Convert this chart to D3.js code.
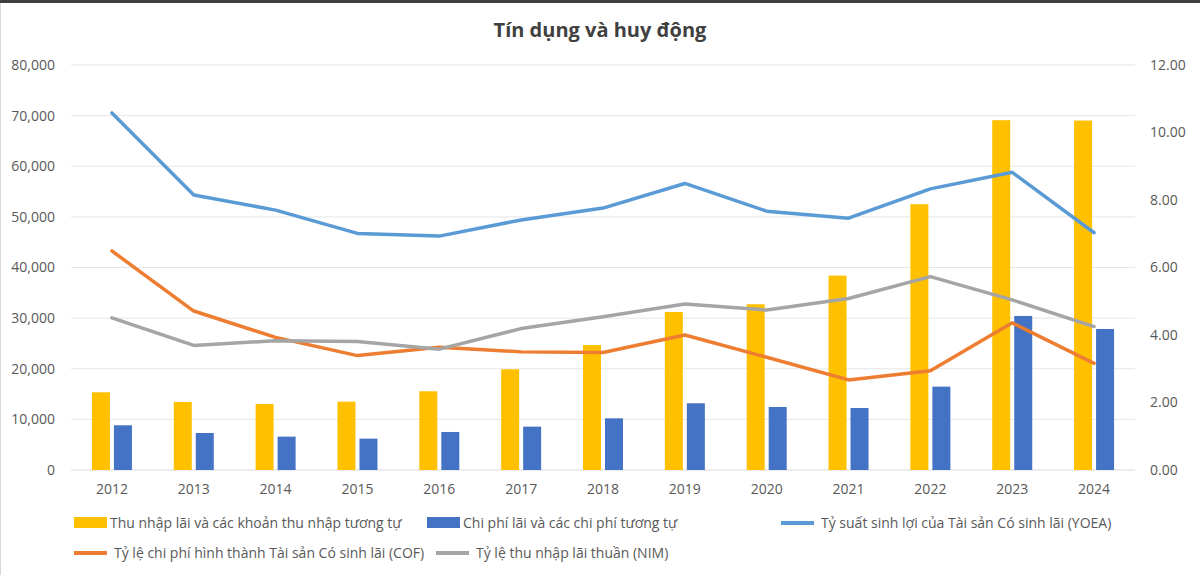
<!DOCTYPE html>
<html lang="vi">
<head>
<meta charset="UTF-8">
<title>Tín dụng và huy động</title>
<script src="https://cdnjs.cloudflare.com/ajax/libs/d3/7.9.0/d3.min.js"></script>
<style>
  body { margin: 0; background: #fff; }
  svg { display: block; font-family: "Open Sans", "Liberation Sans", sans-serif; }
</style>
</head>
<body>
<svg width="1200" height="575"></svg>
<script>
// Data
const years = ["2012", "2013", "2014", "2015", "2016", "2017", "2018", "2019", "2020", "2021", "2022", "2023", "2024"];
const thuNhapLai = [15350, 13440, 13040, 13500, 15550, 19900, 24700, 31220, 32740, 38400, 52500, 69100, 69030];
const chiPhiLai = [8830, 7310, 6590, 6190, 7510, 8560, 10210, 13180, 12450, 12250, 16470, 30430, 27860];
const yoea = [10.58, 8.15, 7.70, 7.01, 6.93, 7.41, 7.76, 8.49, 7.67, 7.46, 8.33, 8.82, 7.03];
const cof = [6.49, 4.71, 3.93, 3.39, 3.64, 3.50, 3.48, 4.00, 3.34, 2.67, 2.94, 4.36, 3.16];
const nim = [4.51, 3.69, 3.83, 3.81, 3.58, 4.19, 4.54, 4.92, 4.74, 5.08, 5.73, 5.04, 4.25];
const leftTicks = [0, 10000, 20000, 30000, 40000, 50000, 60000, 70000, 80000];
const rightTicks = [0, 2, 4, 6, 8, 10, 12];

const svg = d3.select("svg");
const textColor = "#595959";

// border at the top of the picture
svg.append("rect").attr("x", 0).attr("y", 0).attr("width", 1200).attr("height", 3).attr("fill", "#3f3f3f");
svg.append("line").attr("x1", 0.5).attr("x2", 0.5).attr("y1", 3).attr("y2", 575).attr("stroke", "#d9d9d9");

// Title
svg.append("text")
    .attr("x", 600).attr("y", 37)
    .attr("text-anchor", "middle")
    .attr("font-size", "20px")
    .attr("font-weight", "bold")
    .attr("fill", "#404040")
    .text("Tín dụng và huy động");

// Scales
const x = d3.scaleBand().domain(years).range([71, 1135]);
const yLeft = d3.scaleLinear().domain([0, 80000]).range([470, 65]);
const yRight = d3.scaleLinear().domain([0, 12]).range([470, 65]);

// Gridlines
svg.append("g")
    .selectAll("line")
    .data(leftTicks)
    .join("line")
    .attr("x1", 71).attr("x2", 1135)
    .attr("y1", d => yLeft(d)).attr("y2", d => yLeft(d))
    .attr("stroke", d => d === 0 ? "#d9d9d9" : "#e6e6e6")
    .attr("stroke-width", 1);

// Left axis
const leftAxis = svg.append("g")
    .attr("transform", "translate(71,0)")
    .call(d3.axisLeft(yLeft).tickValues(leftTicks).tickFormat(d3.format(",")).tickSize(0).tickPadding(16));
leftAxis.select(".domain").remove();
leftAxis.selectAll("text").attr("font-size", "14px").attr("fill", textColor).attr("font-family", "'Open Sans', sans-serif");

// Right axis
const rightAxis = svg.append("g")
    .attr("transform", "translate(1135,0)")
    .call(d3.axisRight(yRight).tickValues(rightTicks).tickFormat(d3.format(".2f")).tickSize(0).tickPadding(15));
rightAxis.select(".domain").remove();
rightAxis.selectAll("text").attr("font-size", "14px").attr("fill", textColor).attr("font-family", "'Open Sans', sans-serif");

// Bottom axis
const bottomAxis = svg.append("g")
    .attr("transform", "translate(0,470)")
    .call(d3.axisBottom(x).tickSize(0).tickPadding(14));
bottomAxis.select(".domain").remove();
bottomAxis.selectAll("text").attr("font-size", "14px").attr("fill", textColor).attr("font-family", "'Open Sans', sans-serif");

// Bars
const barW = 18, gap = 4;
svg.append("g").selectAll("rect")
    .data(years)
    .join("rect")
    .attr("x", (d, i) => x(d) + x.bandwidth() / 2 - gap / 2 - barW)
    .attr("y", (d, i) => yLeft(thuNhapLai[i]))
    .attr("width", barW)
    .attr("height", (d, i) => yLeft(0) - yLeft(thuNhapLai[i]))
    .attr("fill", "#ffc000");

svg.append("g").selectAll("rect")
    .data(years)
    .join("rect")
    .attr("x", (d, i) => x(d) + x.bandwidth() / 2 + gap / 2)
    .attr("y", (d, i) => yLeft(chiPhiLai[i]))
    .attr("width", barW)
    .attr("height", (d, i) => yLeft(0) - yLeft(chiPhiLai[i]))
    .attr("fill", "#4472c4");

// Lines on the right axis
const line = d3.line()
    .x((d, i) => x(years[i]) + x.bandwidth() / 2)
    .y(d => yRight(d));

[[yoea, "#5b9bd5"], [cof, "#ed7d31"], [nim, "#a5a5a5"]].forEach(([vals, color]) => {
    svg.append("path")
        .datum(vals)
        .attr("d", line)
        .attr("fill", "none")
        .attr("stroke", color)
        .attr("stroke-width", 3.5)
        .attr("stroke-linejoin", "round")
        .attr("stroke-linecap", "round");
});

// Legend
const legend = [
    { label: "Thu nhập lãi và các khoản thu nhập tương tự", color: "#ffc000", type: "box", x: 74, y: 523 },
    { label: "Chi phí lãi và các chi phí tương tự", color: "#4472c4", type: "box", x: 427, y: 523 },
    { label: "Tỷ suất sinh lợi của Tài sản Có sinh lãi (YOEA)", color: "#5b9bd5", type: "line", x: 781, y: 523 },
    { label: "Tỷ lệ chi phí hình thành Tài sản Có sinh lãi (COF)", color: "#ed7d31", type: "line", x: 74, y: 553 },
    { label: "Tỷ lệ thu nhập lãi thuần (NIM)", color: "#a5a5a5", type: "line", x: 436, y: 553 }
];

const lg = svg.append("g").selectAll("g").data(legend).join("g")
    .attr("transform", d => `translate(${d.x},${d.y})`);

lg.filter(d => d.type === "box").append("rect")
    .attr("x", 0).attr("y", -6).attr("width", 33).attr("height", 11)
    .attr("fill", d => d.color);
lg.filter(d => d.type === "line").append("line")
    .attr("x1", 0).attr("x2", 33).attr("y1", 0).attr("y2", 0)
    .attr("stroke", d => d.color).attr("stroke-width", 4);
lg.append("text")
    .attr("x", d => d.type === "box" ? 36 : 40)
    .attr("y", 5)
    .attr("font-size", "14px")
    .attr("fill", textColor)
    .text(d => d.label);
</script>
</body>
</html>
